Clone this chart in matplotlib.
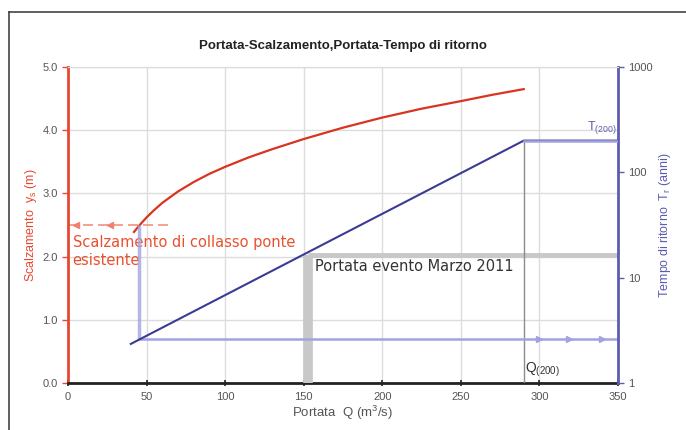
import numpy as np
import matplotlib
matplotlib.use("Agg")
import matplotlib.pyplot as plt
from matplotlib.lines import Line2D

plt.rcParams['font.family'] = ['Liberation Sans', 'DejaVu Sans']
plt.rcParams['mathtext.default'] = 'regular'

# curva portata - scalzamento (asse sinistro)
Q_scalz = [42, 46, 50, 55, 60, 70, 80, 90, 100, 115, 130, 150, 175, 200, 225, 250, 270, 290]
y_scalz = [2.39, 2.51, 2.62, 2.74, 2.85, 3.03, 3.18, 3.31, 3.42, 3.57, 3.70, 3.86, 4.04,
           4.20, 4.34, 4.46, 4.56, 4.65]

# retta portata - tempo di ritorno (asse destro, log)
Q_tr = [40, 290, 350]
T_tr = [2.35, 200, 200]

# valori notevoli
y_collasso = 2.5      # scalzamento di collasso
Q_collasso = 45
T_collasso = 2.6
Q_evento = 152.5      # evento marzo 2011
T_evento = 16.5
Q_200 = 290
T_200 = 200

red_c = '#d8341f'
red_ax = '#e8472f'
blue_c = '#3b3b94'
blue_ax = '#5c5cb0'
light_blue = '#a3a3e0'
grey_txt = '#555555'

fig = plt.figure(figsize=(6.86, 4.30), dpi=100)
ax = fig.add_axes([0.0991, 0.1093, 0.8018, 0.7349])
ax2 = ax.twinx()

# griglia
ax.set_axisbelow(True)
ax.grid(True, color='#dcdcdc', lw=1)

ax.plot(Q_scalz, y_scalz, color=red_c, lw=1.6, zorder=3, solid_joinstyle='round')

# linea tratteggiata scalzamento di collasso
ax.plot([0, 66], [y_collasso, y_collasso], color='#f29080', lw=1.2, ls=(0, (6, 3)), zorder=2)
ax.plot([5, 27], [y_collasso, y_collasso], ls='none', marker='<', ms=4, color='#f08070', zorder=2)

ax.set_xlim(0, 350)
ax.set_ylim(0, 5)
ax.set_xticks(np.arange(0, 351, 50))
ax.set_yticks(np.arange(0, 5.1, 1))
ax.set_yticklabels(['%.1f' % v for v in np.arange(0, 5.1, 1)])

# asse destro
ax2.set_yscale('log')
ax2.set_ylim(1, 1000)
ax2.set_yticks([1, 10, 100, 1000])
ax2.set_yticklabels(['1', '10', '100', '1000'])
ax2.minorticks_off()

# livello dello scalzamento di collasso riportato sull'asse log
T_top = 10 ** (y_collasso / 5 * 3)
ax2.vlines(Q_collasso, T_collasso, T_top, color=light_blue, lw=2.5, alpha=0.8, zorder=2)
ax2.plot([Q_collasso, 350], [T_collasso, T_collasso], color=light_blue, lw=1.8, zorder=2)
ax2.plot([300, 319, 340], [T_collasso] * 3, ls='none', marker='>', ms=4, color=light_blue, zorder=2)

ax2.vlines(Q_evento, 1, T_evento, color='#c8c8c8', lw=7, zorder=1)
ax2.hlines(T_evento, Q_evento, 350, color='#c8c8c8', lw=3.5, zorder=1)
ax2.vlines(Q_200, 1, T_200, color='#8c8c8c', lw=1, zorder=1)

ax2.plot(Q_tr, T_tr, color=blue_c, lw=1.5, zorder=3)
ax2.plot(Q_tr[1:], T_tr[1:], color=light_blue, lw=1.8, zorder=3)

# testi
ax.text(3, 2.34, 'Scalzamento di collasso ponte\nesistente', color='#e8512f',
        fontsize=10.5, family='DejaVu Sans', va='top', ha='left', linespacing=1.25, zorder=4)
ax.text(157.5, 1.84, 'Portata evento Marzo 2011', color='#333333',
        fontsize=10.5, family='DejaVu Sans', va='center', ha='left', zorder=4)
ax2.text(349, 222, 'T$_{(200)}$', color=blue_ax, fontsize=9, ha='right', va='bottom')
ax2.text(Q_200 + 1, 1.08, 'Q$_{(200)}$', color='#333333', fontsize=10, ha='left', va='bottom')

ax.set_title('Portata-Scalzamento,Portata-Tempo di ritorno', fontsize=9.5,
             fontweight='bold', color='#222222', pad=13)
ax.set_xlabel('Portata  Q (m$^3$/s)', fontsize=9.5, color=grey_txt, labelpad=1)
ax.set_ylabel('Scalzamento  y$_s$ (m)', fontsize=9, color=red_ax, labelpad=2)
ax2.set_ylabel('Tempo di ritorno  T$_r$ (anni)', fontsize=9, color=blue_ax, labelpad=3)

# spine
ax.spines['left'].set_color(red_ax)
ax.spines['left'].set_linewidth(2)
ax.spines['bottom'].set_color('#222222')
ax.spines['bottom'].set_linewidth(2)
ax.spines['top'].set_color('#dcdcdc')
ax.spines['right'].set_visible(False)
ax2.spines['right'].set_color(blue_ax)
ax2.spines['right'].set_linewidth(2)
ax2.spines['left'].set_visible(False)
ax2.spines['bottom'].set_visible(False)
ax2.spines['top'].set_color('#dcdcdc')

ax.tick_params(axis='y', colors=red_ax, labelcolor=grey_txt, labelsize=8, length=4, width=1)
ax.tick_params(axis='x', colors='#222222', labelcolor=grey_txt, labelsize=8,
               direction='inout', length=5, width=1.2, pad=4)
ax2.tick_params(axis='y', colors=blue_ax, labelcolor=grey_txt, labelsize=8, length=4, width=1)

# cornice
fig.add_artist(Line2D([0.0131, 0.0131], [0, 0.972], transform=fig.transFigure, color='#444444', lw=1.2))
fig.add_artist(Line2D([0.0131, 1], [0.972, 0.972], transform=fig.transFigure, color='#444444', lw=1.2))

fig.savefig('out.png', dpi=100)
